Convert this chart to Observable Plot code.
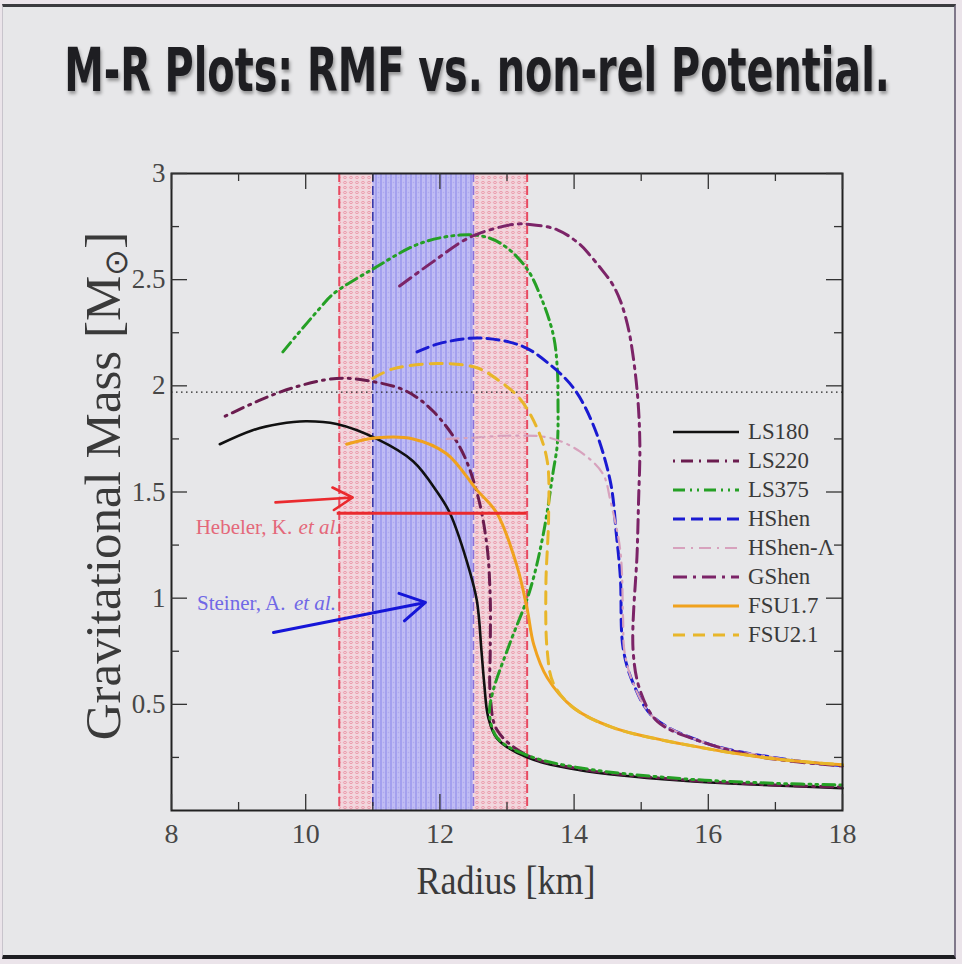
<!DOCTYPE html>
<html>
<head>
<meta charset="utf-8">
<script src="https://cdn.jsdelivr.net/npm/d3@7"></script>
<script src="https://cdn.jsdelivr.net/npm/@observablehq/plot@0.6"></script>
<style>
html,body{margin:0;padding:0;background:#ebe4ea;}
#wrap{position:relative;width:962px;height:964px;overflow:hidden;}
#slide{position:absolute;left:2px;top:4px;width:951px;height:948px;background:#e7e7e9;border-top:3px solid #3b3b3f;border-bottom:4px solid #1e1e22;border-right:2px solid #80788a;border-left:1px solid #c8c4cc;}
#chart{position:absolute;left:0;top:0;}
#title{position:absolute;left:477px;top:70px;white-space:nowrap;font-family:"Liberation Sans Narrow","DejaVu Sans Condensed","Liberation Sans",sans-serif;font-weight:bold;font-size:60px;line-height:60px;color:#1e1e22;text-shadow:2px 3px 4px rgba(0,0,0,0.35);transform-origin:center center;}
.lab{position:absolute;font-family:"Liberation Serif","Times New Roman",serif;color:#3a3a3a;white-space:nowrap;}
#xlab{left:506px;top:880px;font-size:40px;transform:translate(-50%,-50%) scaleX(0.9);}
#ylab{left:104px;top:486px;font-size:51px;transform:translate(-50%,-50%) rotate(-90deg);}
#ylab sub{font-size:32px;vertical-align:-7px;}
#legend{position:absolute;left:672px;top:418px;}
.lrow{position:absolute;left:0;height:28px;width:190px;}
.lrow svg{position:absolute;left:0;top:0;}
.lrow span{position:absolute;left:76px;top:-1px;font-family:"Liberation Serif","Times New Roman",serif;font-size:24px;color:#3a3a3a;line-height:28px;transform:scaleX(0.95);transform-origin:left center;white-space:nowrap;}
</style>
</head>
<body>
<div id="wrap">
  <div id="slide"></div>
  <div id="chart"></div>
  <div id="title"></div>
  <div id="xlab" class="lab"></div>
  <div id="ylab" class="lab"></div>
  <div id="legend"></div>
</div>
<script>
// ---------------- text ----------------
const titleText = "M-R Plots: RMF vs. non-rel Potential.";
const xLabel = "Radius [km]";
const yLabelMain = "Gravitational Mass [M";
const yLabelSub = "\u2299";
const yLabelEnd = "]";

// ---------------- ticks ----------------
const xMajor = [8, 10, 12, 14, 16, 18];
const xMinor = [9, 11, 13, 15, 17];
const yMajor = [0.5, 1, 1.5, 2, 2.5, 3];
const yMinor = [0.25, 0.75, 1.25, 1.75, 2.25, 2.75];

// ---------------- series (Radius km, Mass Msun) ----------------
const seriesNames = ["LS180", "LS220", "LS375", "HShen", "HShen-\u039B", "GShen", "FSU1.7", "FSU2.1"];

const ls180 = [[8.72,1.725],[9.2,1.79],[9.6,1.82],[10.0,1.833],[10.46,1.82],[11.06,1.75],[11.6,1.645],[11.96,1.50],[12.15,1.40],[12.40,1.175],[12.55,0.99],[12.62,0.75],[12.66,0.60],[12.72,0.44],[12.85,0.34],[13.3,0.25],[14.09,0.19],[15.58,0.141],[17.0,0.118],[18.0,0.105]];
const ls220 = [[8.8,1.857],[9.3,1.93],[9.8,1.99],[10.46,2.035],[11.0,2.02],[11.5,1.975],[11.9,1.88],[12.3,1.71],[12.55,1.5],[12.7,1.25],[12.75,1.0],[12.75,0.75],[12.75,0.55],[12.85,0.38],[13.3,0.26],[14.1,0.195],[15.6,0.145],[17.0,0.12],[18.0,0.11]];
const ls375 = [[9.66,2.16],[9.87,2.24],[10.21,2.365],[10.40,2.43],[11.0,2.55],[11.7,2.67],[12.3,2.71],[12.7,2.70],[13.0,2.65],[13.3,2.55],[13.49,2.43],[13.69,2.24],[13.75,2.08],[13.76,1.93],[13.75,1.725],[13.69,1.60],[13.54,1.30],[13.34,1.035],[13.04,0.785],[12.79,0.56],[12.74,0.45],[12.86,0.34],[13.3,0.26],[14.1,0.2],[15.6,0.15],[17.0,0.128],[18.0,0.12]];
const hshen = [[11.66,2.16],[12.0,2.2],[12.6,2.225],[13.24,2.185],[13.64,2.10],[13.99,1.99],[14.28,1.82],[14.54,1.55],[14.63,1.3],[14.69,1.095],[14.73,0.766],[14.88,0.60],[15.18,0.44],[15.99,0.315],[17.07,0.245],[18.0,0.21]];
const hshenL = [[12.1,1.75],[12.45,1.755],[13.0,1.765],[13.64,1.755],[14.09,1.69],[14.43,1.585],[14.54,1.46],[14.69,1.22],[14.73,0.9],[14.75,0.75],[14.88,0.60],[15.18,0.44],[15.99,0.315],[17.07,0.245],[18.0,0.21]];
const gshen = [[11.4,2.47],[11.9,2.585],[12.45,2.70],[13.09,2.76],[13.34,2.76],[13.75,2.735],[14.09,2.665],[14.25,2.61],[14.43,2.54],[14.57,2.48],[14.69,2.40],[14.77,2.32],[14.84,2.22],[14.94,1.975],[14.98,1.725],[14.96,1.45],[14.94,1.22],[14.88,0.75],[14.99,0.56],[15.24,0.42],[15.84,0.33],[16.82,0.25],[18.0,0.21]];
const fsu17 = [[10.61,1.725],[11.06,1.755],[11.6,1.75],[12.1,1.68],[12.55,1.51],[12.85,1.40],[13.15,1.15],[13.3,0.95],[13.4,0.78],[13.6,0.625],[13.99,0.484],[14.58,0.39],[15.58,0.315],[16.82,0.25],[18.0,0.215]];
const fsu21 = [[11.0,2.035],[11.3,2.08],[11.96,2.105],[12.55,2.085],[12.9,2.02],[13.19,1.94],[13.45,1.80],[13.6,1.645],[13.62,1.38],[13.58,1.067],[13.6,0.75],[13.69,0.60],[13.99,0.484],[14.58,0.39],[15.58,0.315],[16.82,0.25],[18.0,0.215]];
const seriesData = [ls180, ls220, ls375, hshen, hshenL, gshen, fsu17, fsu21];

// ---------------- constraint bands & annotations ----------------
const hebelerBand = [{lo: 10.5, hi: 13.3}];
const steinerBand = [{lo: 11.0, hi: 12.5}];
const hebelerEdges = [10.5, 13.3];
const steinerEdges = [11.0, 12.5];
const massLine = [1.97];
const hebelerMassLine = [{x1: 10.47, x2: 13.3, y: 1.4}];
const redArrow = [{x1: 9.55, y1: 1.451, x2: 10.70, y2: 1.474}];
const blueArrow = [{x1: 9.52, y1: 0.838, x2: 11.785, y2: 0.98}];
const annoMain = [
  {x: 8.36, y: 1.333, text: "Hebeler, K.", who: "h"},
  {x: 8.38, y: 0.975, text: "Steiner, A.", who: "s"}
];
const annoItalic = [
  {x: 10.52, y: 1.333, text: "et al.", who: "h"},
  {x: 10.45, y: 0.975, text: "et al.", who: "s"}
];

// ---------------- styles ----------------
const styles = {
  "LS180":  {stroke: "#111111", width: 2.6, dash: null},
  "LS220":  {stroke: "#6b1c4f", width: 3, dash: "2,6,12,6"},
  "LS375":  {stroke: "#25a025", width: 3, dash: "12,5,2,5,2,5"},
  "HShen":  {stroke: "#1a1ad2", width: 3, dash: "12,6"},
  "HShen-\u039B": {stroke: "#d7a2bd", width: 2.2, dash: "12,6,2,6"},
  "GShen":  {stroke: "#7c2468", width: 3, dash: "14,6,3,6"},
  "FSU1.7": {stroke: "#f0a21e", width: 3, dash: null},
  "FSU2.1": {stroke: "#e8b62a", width: 3, dash: "12,8"}
};
const annoColor = {h: "#e4687a", s: "#7068e6"};

// ---------------- layout ----------------
const W = 962, H = 964, mL = 171, mR = 120, mT = 173, mB = 154;
const innerW = W - mL - mR, innerH = H - mT - mB;
const majorLen = 16, minorLen = 8;

const lineMarks = seriesNames.map((name, i) => Plot.line(seriesData[i], {
  x: d => d[0], y: d => d[1],
  stroke: styles[name].stroke, strokeWidth: styles[name].width,
  strokeDasharray: styles[name].dash, curve: "catmull-rom"
}));

const chart = Plot.plot({
  width: W, height: H,
  marginLeft: mL, marginRight: mR, marginTop: mT, marginBottom: mB,
  style: {background: "transparent", fontFamily: "'Liberation Serif','Times New Roman',serif", color: "#474747"},
  x: {domain: [8, 18]},
  y: {domain: [0, 3]},
  marks: [
    Plot.rect(hebelerBand, {x1: "lo", x2: "hi", fill: "url(#pinkDots)"}),
    Plot.rect(steinerBand, {x1: "lo", x2: "hi", fill: "url(#blueStripes)"}),
    Plot.ruleX(hebelerEdges, {stroke: "#e84a60", strokeWidth: 2, strokeDasharray: "9,4"}),
    Plot.ruleX(steinerEdges, {stroke: (d, i) => i === 0 ? "#3a3aa8" : "#8a70dc", strokeWidth: 1.6, strokeDasharray: "9,4"}),
    Plot.ruleY(massLine, {stroke: "#222", strokeWidth: 1.3, strokeDasharray: "1.5,3.5"}),
    ...lineMarks,
    Plot.ruleY(hebelerMassLine, {y: "y", x1: "x1", x2: "x2", stroke: "#ea2a2e", strokeWidth: 3}),
    Plot.arrow(redArrow, {x1: "x1", y1: "y1", x2: "x2", y2: "y2", stroke: "#ea2a2e", strokeWidth: 2.6, headLength: 13, bend: 0}),
    Plot.arrow(blueArrow, {x1: "x1", y1: "y1", x2: "x2", y2: "y2", stroke: "#1515d8", strokeWidth: 3, headLength: 14, bend: 0}),
    Plot.text(annoMain, {x: "x", y: "y", text: "text", textAnchor: "start", fontSize: 21, fill: d => annoColor[d.who]}),
    Plot.text(annoItalic, {x: "x", y: "y", text: "text", textAnchor: "end", fontSize: 21, fontStyle: "italic", fill: d => annoColor[d.who]}),
    Plot.frame({stroke: "#222", strokeWidth: 2}),
    // inward ticks
    Plot.ruleX(xMajor, {insetTop: innerH - majorLen, stroke: "#333", strokeWidth: 1.3}),
    Plot.ruleX(xMajor, {insetBottom: innerH - majorLen, stroke: "#333", strokeWidth: 1.3}),
    Plot.ruleX(xMinor, {insetTop: innerH - minorLen, stroke: "#333", strokeWidth: 1.3}),
    Plot.ruleX(xMinor, {insetBottom: innerH - minorLen, stroke: "#333", strokeWidth: 1.3}),
    Plot.ruleY(yMajor, {insetRight: innerW - majorLen, stroke: "#333", strokeWidth: 1.3}),
    Plot.ruleY(yMajor, {insetLeft: innerW - majorLen, stroke: "#333", strokeWidth: 1.3}),
    Plot.ruleY(yMinor, {insetRight: innerW - minorLen, stroke: "#333", strokeWidth: 1.3}),
    Plot.ruleY(yMinor, {insetLeft: innerW - minorLen, stroke: "#333", strokeWidth: 1.3}),
    Plot.axisX(xMajor, {tickSize: 0, tickPadding: 13, fontSize: 28, label: null, tickFormat: d => `${d}`}),
    Plot.axisY(yMajor, {tickSize: 0, tickPadding: 6, fontSize: 27, label: null, tickFormat: d => `${d}`})
  ]
});

chart.insertAdjacentHTML("afterbegin", `
<defs>
  <pattern id="pinkDots" patternUnits="userSpaceOnUse" width="6" height="5">
    <rect width="6" height="5" fill="#f2d6dd"/>
    <ellipse cx="3" cy="2.5" rx="1.6" ry="1" fill="none" stroke="#ea94a6" stroke-width="0.9"/>
  </pattern>
  <pattern id="blueStripes" patternUnits="userSpaceOnUse" width="5" height="5">
    <rect width="5" height="5" fill="#c0bcf4"/>
    <rect width="2" height="5" fill="#a4a0ee"/>
    <circle cx="3.5" cy="2.5" r="0.8" fill="#aeaaef"/>
  </pattern>
</defs>`);

document.getElementById("chart").appendChild(chart);

// title: fit to the reference width
const t = document.getElementById("title");
t.textContent = titleText;
const natural = t.offsetWidth;
t.style.transform = `translate(-50%, -50%) scaleX(${826 / natural})`;

document.getElementById("xlab").textContent = xLabel;
const yl = document.getElementById("ylab");
yl.appendChild(document.createTextNode(yLabelMain));
const sub = document.createElement("sub"); sub.textContent = yLabelSub; yl.appendChild(sub);
yl.appendChild(document.createTextNode(yLabelEnd));

// legend
const legend = document.getElementById("legend");
seriesNames.forEach((name, i) => {
  const s = styles[name];
  const row = document.createElement("div");
  row.className = "lrow";
  row.style.top = (i * 29) + "px";
  row.innerHTML = `<svg width="70" height="28"><line x1="1" y1="14" x2="67" y2="14" stroke="${s.stroke}" stroke-width="${s.width}" ${s.dash ? `stroke-dasharray="${s.dash}"` : ""}/></svg><span></span>`;
  row.querySelector("span").textContent = name;
  legend.appendChild(row);
});
</script>
</body>
</html>
